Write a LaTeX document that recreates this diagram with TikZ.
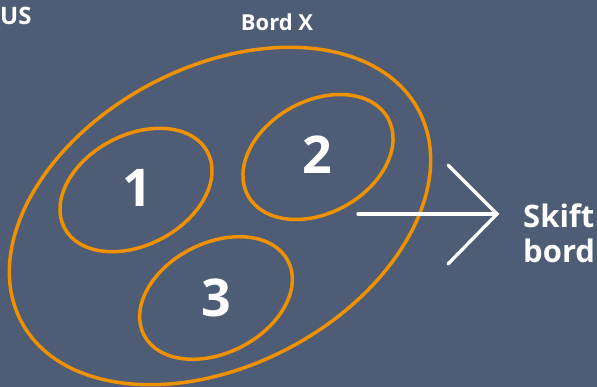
\documentclass[tikz,border=0pt]{standalone}
\usepackage{fontspec}
\setmainfont{Open Sans}
\usetikzlibrary{positioning}
\definecolor{slate}{RGB}{78,93,117}
\definecolor{ringorange}{RGB}{240,145,0}

\begin{document}
\begin{tikzpicture}[x=1pt,y=-1pt,
  ring/.style={draw=ringorange,line width=3.5pt},
  num/.style={text=white,font=\fontsize{52}{52}\selectfont\bfseries},
  lbl/.style={text=white,font=\fontsize{22}{24}\selectfont\bfseries,inner sep=0pt},
  arrowline/.style={draw=white,line width=3.3pt,line cap=round,line join=miter}]
\useasboundingbox (0,0) rectangle (597,387);
\fill[slate] (0,0) rectangle (597,387);
\clip (0,0) rectangle (597,387);
% table X and its groups
\draw[ring] (220,216) ellipse [x radius=225,y radius=149,rotate=28];
\draw[ring] (136,190) ellipse [x radius=81,y radius=55,rotate=28];
\draw[ring] (318,157) ellipse [x radius=80,y radius=56,rotate=29];
\draw[ring] (216,298) ellipse [x radius=81,y radius=55,rotate=27];
\node[num] (g1) at (137,188) {1};
\node[num] (g2) at (317,155) {2};
\node[num] (g3) at (216,298) {3};
\node[lbl,anchor=base] (bordx) at (277,31) {Bord X};
\node[lbl,anchor=base west,font=\fontsize{24}{26}\selectfont\bfseries] (us) at (0,25) {US};
\node[lbl,anchor=base west,font=\fontsize{31}{34}\selectfont\bfseries] (skift) at (523,228) {Skift};
\node[lbl,anchor=base west,font=\fontsize{31}{34}\selectfont\bfseries] (bord) at (523,263) {bord};
% move arrow
\coordinate (shaft) at (358,214);
\coordinate (tip) at (497,214);
\coordinate (barbup) at (448,165);
\coordinate (barbdown) at (448,264);
\draw[arrowline] (shaft) -- (tip);
\draw[arrowline] (barbup) -- (tip) -- (barbdown);
\end{tikzpicture}
\end{document}
